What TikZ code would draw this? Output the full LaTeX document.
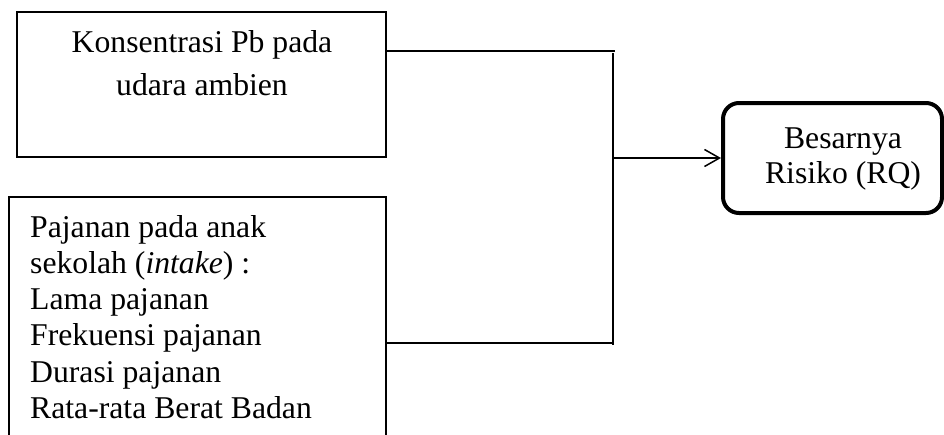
\documentclass[tikz,border=0pt]{standalone}
\usepackage{fontspec}
\setmainfont{Liberation Serif}
\usetikzlibrary{arrows.meta}
\begin{document}
\begin{tikzpicture}[x=1pt,y=-1pt,
  box/.style={draw, line width=1.3pt, inner sep=0pt, rectangle},
  roundbox/.style={draw, line width=4pt, inner sep=0pt, rectangle, rounded corners=16pt},
  wire/.style={line width=1.5pt},
  txt/.style={inner sep=0pt}]
\clip (0,0) rectangle (944,434);
\fill[white] (0,0) rectangle (944,434);
% boxes
\node[box, minimum width=369pt, minimum height=145pt] (k) at (201.5,84.5) {};
\node[box, minimum width=377pt, minimum height=263pt] (p) at (197.5,328.5) {};
\node[roundbox, minimum width=219pt, minimum height=110pt] (r) at (832.5,158) {};
% texts (base anchor = baseline of the last line)
\node[txt, anchor=base, align=center, font=\fontsize{31.7}{43}\selectfont] (kt) at (202,95)
  {Konsentrasi Pb pada\\udara ambien};
\node[txt, anchor=base west, align=left, font=\fontsize{31.7}{36.3}\selectfont] (pt) at (30,418.5)
  {Pajanan pada anak\\sekolah (\textit{intake}) :\\Lama pajanan\\Frekuensi pajanan\\Durasi pajanan\\Rata-rata Berat Badan};
\node[txt, anchor=base, align=center, font=\fontsize{31.7}{35}\selectfont] (rt) at (843,183)
  {Besarnya\\Risiko (RQ)};
% junction coordinates
\coordinate (j1) at (615,51);
\coordinate (j2) at (612,343);
\coordinate (jt) at (613,53);
\coordinate (jb) at (613,345);
\coordinate (jm) at (613,158);
% connectors
\draw[wire] (k.east |- j1) -- (j1);
\draw[wire] (p.east |- j2) -- (j2);
\draw[wire] (jt) -- (jb);
\draw[wire, -{Straight Barb[length=15pt,width=17pt]}] (jm) -- (r.west);
\end{tikzpicture}
\end{document}
